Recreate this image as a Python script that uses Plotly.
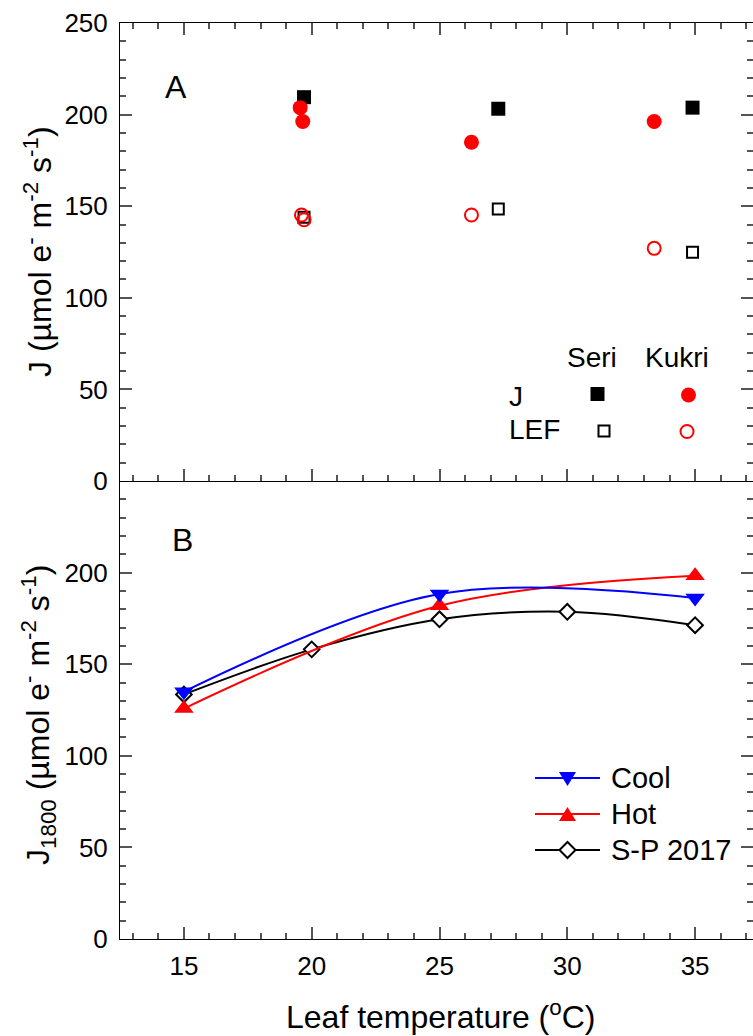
import plotly.graph_objects as go

# ---------------- Panel A data ----------------
seri_J_x = [19.7, 27.3, 34.9]
seri_J_y = [209.5, 203.2, 203.8]
seri_LEF_x = [19.7, 27.3, 34.9]
seri_LEF_y = [144.0, 148.5, 124.8]
kukri_J_x = [19.55, 19.65, 26.25, 33.4]
kukri_J_y = [203.8, 196.2, 184.9, 196.2]
kukri_LEF_x = [19.6, 19.7, 26.25, 33.4]
kukri_LEF_y = [145.2, 142.6, 145.2, 127.0]

# ---------------- Panel B data ----------------
temps = [15, 25, 35]
cool = [135.0, 188.3, 186.1]
hot = [125.8, 181.9, 198.3]
sp_temps = [15, 20, 25, 30, 35]
sp2017 = [133.5, 158.1, 174.5, 178.6, 171.3]

x_ticks = [15, 20, 25, 30, 35]
yA_ticks = [0, 50, 100, 150, 200, 250]
yB_ticks = [0, 50, 100, 150, 200]

FONT = "Arial, 'Liberation Sans', sans-serif"
W, H = 753, 1036
ML, MR, MT, MB = 120, 0, 23, 97
PW, PH = W - ML - MR, H - MT - MB
split = 0.5

def px(x):
    return (x - ML) / PW

def py(y):
    return (H - MB - y) / PH

fig = go.Figure()

# Panel A traces
fig.add_trace(go.Scatter(x=seri_LEF_x, y=seri_LEF_y, mode='markers', xaxis='x2', yaxis='y2',
                         marker=dict(symbol='square-open', size=11, color='black', line=dict(width=2)),
                         showlegend=False))
fig.add_trace(go.Scatter(x=seri_J_x, y=seri_J_y, mode='markers', xaxis='x2', yaxis='y2',
                         marker=dict(symbol='square', size=14, color='black'), showlegend=False))
fig.add_trace(go.Scatter(x=kukri_LEF_x, y=kukri_LEF_y, mode='markers', xaxis='x2', yaxis='y2',
                         marker=dict(symbol='circle-open', size=13, color='red', line=dict(width=2)),
                         showlegend=False))
fig.add_trace(go.Scatter(x=kukri_J_x, y=kukri_J_y, mode='markers', xaxis='x2', yaxis='y2',
                         marker=dict(symbol='circle', size=15, color='red'), showlegend=False))

# Panel B traces
fig.add_trace(go.Scatter(x=sp_temps, y=sp2017, mode='lines+markers', name='S-P 2017', showlegend=False,
                         line=dict(color='black', width=2, shape='spline'),
                         marker=dict(symbol='diamond', size=12, color='white', line=dict(color='black', width=2))))
fig.add_trace(go.Scatter(x=temps, y=hot, mode='lines+markers', name='Hot', showlegend=False,
                         line=dict(color='red', width=2, shape='spline'),
                         marker=dict(symbol='triangle-up', size=17, color='red')))
fig.add_trace(go.Scatter(x=temps, y=cool, mode='lines+markers', name='Cool', showlegend=False,
                         line=dict(color='blue', width=2, shape='spline'),
                         marker=dict(symbol='triangle-down', size=17, color='blue')))

axis_common = dict(showline=True, linecolor='black', linewidth=1,
                   ticks='inside', ticklen=12, tickwidth=1.5, tickcolor='#555',
                   showgrid=False, zeroline=False,
                   tickfont=dict(size=26, color='black', family=FONT))
minor_x = dict(ticks='inside', ticklen=6, dtick=1, tick0=0, tickcolor='#555', tickwidth=1.5)
minor_y = dict(ticks='inside', ticklen=6, dtick=10, tick0=0, tickcolor='#555', tickwidth=1.5)

xrange = [12.5, 12.5 + PW / 25.56]

fig.update_layout(
    width=W, height=H,
    margin=dict(l=ML, r=MR, t=MT, b=MB),
    plot_bgcolor='white', paper_bgcolor='white',
    font=dict(family=FONT, color='black'),
    showlegend=False,
    xaxis=dict(domain=[0, 1], range=xrange, anchor='y', tickvals=x_ticks, minor=minor_x,
               mirror=False, ticklabelstandoff=4, **axis_common),
    yaxis=dict(domain=[0, split], range=[0, 250], anchor='x', tickvals=yB_ticks, minor=minor_y,
               mirror='ticks', ticklabelstandoff=6, **axis_common),
    xaxis2=dict(domain=[0, 1], range=xrange, anchor='y2', tickvals=x_ticks, showticklabels=False,
                minor=minor_x, mirror='ticks', **axis_common),
    yaxis2=dict(domain=[split, 1], range=[0, 250], anchor='x2', tickvals=yA_ticks, minor=minor_y,
                mirror='ticks', ticklabelstandoff=6, **axis_common),
)

annotations = [
    dict(text='A', x=px(176), y=py(87), size=32),
    dict(text='B', x=px(182), y=py(540), size=32),
    dict(text='Seri', x=px(592), y=py(357), size=28),
    dict(text='Kukri', x=px(677), y=py(357), size=28),
    dict(text='J', x=px(507), y=py(396), xanchor='left', size=28),
    dict(text='LEF', x=px(507), y=py(430), xanchor='left', size=28),
    dict(text='Cool', x=px(609), y=py(778), xanchor='left', size=29),
    dict(text='Hot', x=px(609), y=py(814), xanchor='left', size=29),
    dict(text='S-P 2017', x=px(609), y=py(850), xanchor='left', size=29),
    dict(text='J (µmol e<sup>-</sup> m<sup>-2</sup> s<sup>-1</sup>)', x=px(38), y=py(252), textangle=-90, size=32),
    dict(text='J<sub>1800</sub> (µmol e<sup>-</sup> m<sup>-2</sup> s<sup>-1</sup>)', x=px(38), y=py(715),
         textangle=-90, size=32),
    dict(text='Leaf temperature (<sup>o</sup>C)', x=px(440), y=py(1015), size=32),
]
for a in annotations:
    a.setdefault('xanchor', 'center')
    size = a.pop('size')
    a.update(xref='paper', yref='paper', showarrow=False, yanchor='middle',
             font=dict(size=size, family=FONT, color='black'))
    fig.add_annotation(**a)

def key(kind, cx, cy, size, fill, line_color, lw):
    fig.add_shape(type=kind, xref='paper', yref='paper', xsizemode='pixel', ysizemode='pixel',
                  xanchor=px(cx), yanchor=py(cy), x0=-size / 2, x1=size / 2, y0=-size / 2, y1=size / 2,
                  fillcolor=fill, line=dict(color=line_color, width=lw))

def key_path(path, cx, cy, fill, line_color, lw):
    fig.add_shape(type='path', xref='paper', yref='paper', xsizemode='pixel', ysizemode='pixel',
                  xanchor=px(cx), yanchor=py(cy), path=path,
                  fillcolor=fill, line=dict(color=line_color, width=lw))

def key_line(x0, x1, cy, color):
    fig.add_shape(type='line', xref='paper', yref='paper', x0=px(x0), x1=px(x1), y0=py(cy), y1=py(cy),
                  line=dict(color=color, width=2))

# Panel A key
key('rect', 597.5, 394, 14, 'black', 'black', 0)
key('circle', 688.5, 395, 15, 'red', 'red', 0)
key('rect', 604, 431, 11, 'white', 'black', 2)
key('circle', 687, 431.5, 13, 'white', 'red', 2)

# Panel B key
key_line(535, 600, 778, 'blue')
key_path('M-8.5,7 L8.5,7 L0,-7 Z', 567.5, 779, 'blue', 'blue', 0)
key_line(535, 600, 814, 'red')
key_path('M-8.5,-7 L8.5,-7 L0,7 Z', 567.5, 814, 'red', 'red', 0)
key_line(535, 600, 850, 'black')
key_path('M-8,0 L0,8 L8,0 L0,-8 Z', 567.5, 850, 'white', 'black', 2)

fig.write_html('out.html', config={'displayModeBar': False},
               post_script="document.body.style.margin='0';document.body.style.overflow='hidden';")
